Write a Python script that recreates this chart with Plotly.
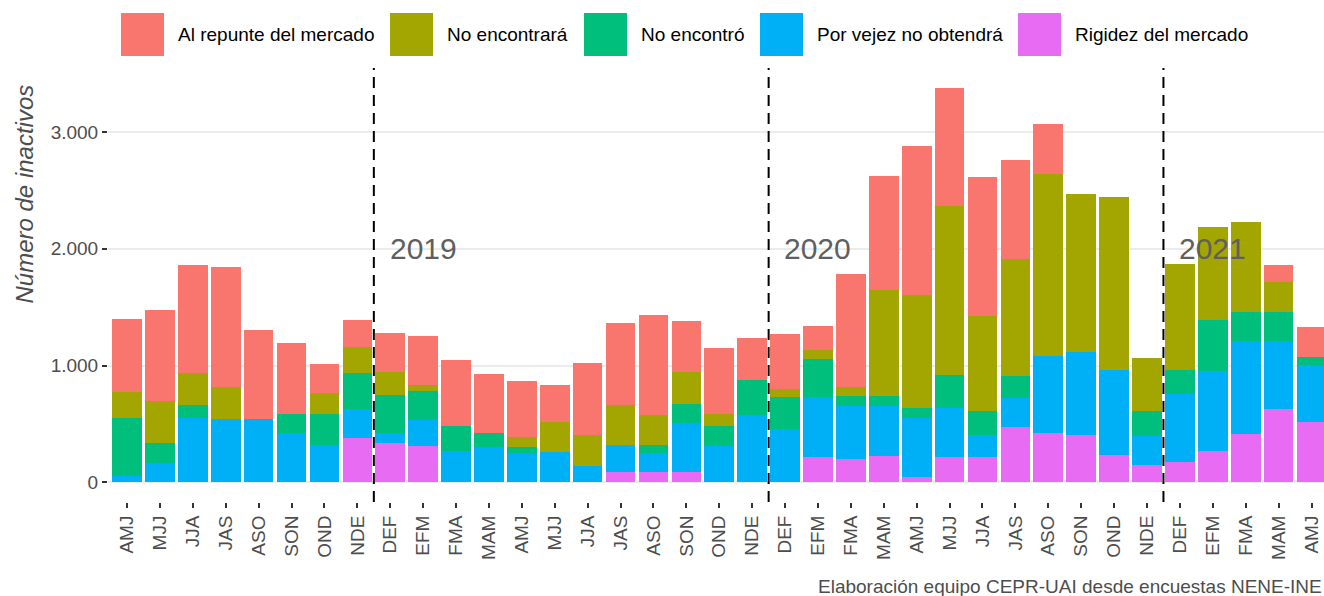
import plotly.graph_objects as go

periods = ["AMJ", "MJJ", "JJA", "JAS", "ASO", "SON", "OND", "NDE",
           "DEF", "EFM", "FMA", "MAM", "AMJ", "MJJ", "JJA", "JAS", "ASO", "SON", "OND", "NDE",
           "DEF", "EFM", "FMA", "MAM", "AMJ", "MJJ", "JJA", "JAS", "ASO", "SON", "OND", "NDE",
           "DEF", "EFM", "FMA", "MAM", "AMJ"]

rigidez = [0, 0, 0, 0, 0, 0, 0, 383,
           340, 309, 0, 0, 0, 0, 0, 86, 86, 92, 0, 0,
           0, 217, 200, 226, 43, 220, 215, 472, 426, 409, 232, 152,
           177, 266, 415, 627, 518]
vejez = [57, 166, 549, 538, 538, 423, 315, 241,
         86, 223, 266, 306, 249, 255, 140, 229, 163, 412, 309, 578,
         452, 513, 455, 429, 506, 418, 194, 246, 658, 704, 729, 246,
         581, 684, 792, 580, 483]
no_encontro = [492, 169, 112, 0, 0, 158, 266, 312,
               318, 246, 218, 112, 57, 0, 0, 0, 66, 165, 169, 295,
               275, 323, 80, 83, 86, 283, 198, 195, 0, 0, 0, 214,
               203, 440, 255, 255, 72]
no_encontrara = [223, 360, 272, 275, 0, 0, 186, 226,
                 200, 52, 0, 0, 80, 260, 261, 343, 260, 275, 103, 0,
                 71, 83, 83, 910, 967, 1448, 818, 1001, 1554, 1359, 1479, 452,
                 907, 793, 770, 257, 0]
repunte = [627, 778, 927, 1027, 769, 612, 249, 231,
           338, 420, 563, 512, 484, 320, 623, 704, 861, 438, 569, 360,
           469, 203, 962, 978, 1274, 1010, 1193, 847, 429, 0, 0, 0,
           0, 0, 0, 146, 257]

series_names = ["Rigidez del mercado", "Por vejez no obtendrá", "No encontró",
                "No encontrará", "Al repunte del mercado"]
series_vals = [rigidez, vejez, no_encontro, no_encontrara, repunte]
series_colors = ["#E76BF3", "#00B0F6", "#00BF7D", "#A3A500", "#F8766D"]

year_labels = ["2019", "2020", "2021"]
year_label_pos = [9, 21, 33]
year_breaks = [7.5, 19.5, 31.5]

y_tickvals = [0, 1000, 2000, 3000]
y_ticktext = ["0", "1.000", "2.000", "3.000"]

FONT = "Liberation Sans, Arial, sans-serif"
W, H = 1324, 596
L, R, T, B = 108, 0, 68, 94
PW, PH = W - L - R, H - T - B

def px(x):
    return (x - L) / PW

def py(y):
    return (H - B - y) / PH

xs = list(range(len(periods)))
fig = go.Figure()
for name, vals, col in zip(series_names, series_vals, series_colors):
    fig.add_trace(go.Bar(x=xs, y=vals, name=name, marker=dict(color=col, line=dict(width=0)),
                         showlegend=False))

shapes = []
for xb in year_breaks:
    shapes.append(dict(type="line", xref="x", yref="paper", x0=xb, x1=xb, y0=0, y1=1,
                       line=dict(color="black", width=2, dash="11px,7px")))

annotations = []
for lab, xp in zip(year_labels, year_label_pos):
    annotations.append(dict(x=xp, y=2000, xref="x", yref="y", text=lab, showarrow=False,
                            font=dict(family=FONT, size=30, color="#5f5f5f"),
                            xanchor="center", yanchor="middle"))

# manual legend (ggplot-style large keys)
legend_order = ["Al repunte del mercado", "No encontrará", "No encontró",
                "Por vejez no obtendrá", "Rigidez del mercado"]
legend_keys_x = [121, 390, 584, 760, 1018]
for lab, kx in zip(legend_order, legend_keys_x):
    col = series_colors[series_names.index(lab)]
    shapes.append(dict(type="rect", xref="paper", yref="paper",
                       x0=px(kx), x1=px(kx + 43), y0=py(56), y1=py(13),
                       fillcolor=col, line=dict(width=0)))
    annotations.append(dict(x=px(kx + 55), y=py(35), xref="paper", yref="paper", text=lab,
                            showarrow=False, xanchor="left", yanchor="middle",
                            font=dict(family=FONT, size=19, color="black")))

annotations.append(dict(x=px(24), y=py(82), xref="paper", yref="paper",
                        text="<i>Número de inactivos</i>", textangle=-90, showarrow=False,
                        xanchor="center", yanchor="top",
                        font=dict(family=FONT, size=24, color="#4d4d4d")))
annotations.append(dict(x=px(816), y=py(586), xref="paper", yref="paper",
                        text="Elaboración equipo CEPR-UAI desde encuestas NENE-INE",
                        showarrow=False, xanchor="left", yanchor="middle",
                        font=dict(family=FONT, size=19, color="#4d4d4d")))

fig.update_layout(
    width=W, height=H, barmode="stack", bargap=0.1,
    margin=dict(l=L, r=R, t=T, b=B, pad=0),
    plot_bgcolor="white", paper_bgcolor="white",
    shapes=shapes, annotations=annotations, showlegend=False,
    xaxis=dict(range=[-0.58, 36.38], tickvals=xs, ticktext=periods, tickangle=-90,
               showgrid=False, zeroline=False, ticks="outside", ticklen=5, tickwidth=2,
               tickcolor="#333333", tickfont=dict(family=FONT, size=19, color="#4d4d4d"),
               showline=False),
    yaxis=dict(range=[-169, 3548], tickvals=y_tickvals, ticktext=y_ticktext,
               showgrid=True, gridcolor="#ebebeb", gridwidth=1.5, zeroline=False,
               ticks="outside", ticklen=5, tickwidth=2, tickcolor="#333333",
               tickfont=dict(family=FONT, size=19, color="#4d4d4d"), showline=False),
)

fig.write_html("out.html", config={"displayModeBar": False},
               post_script="document.body.style.margin='0px';")
